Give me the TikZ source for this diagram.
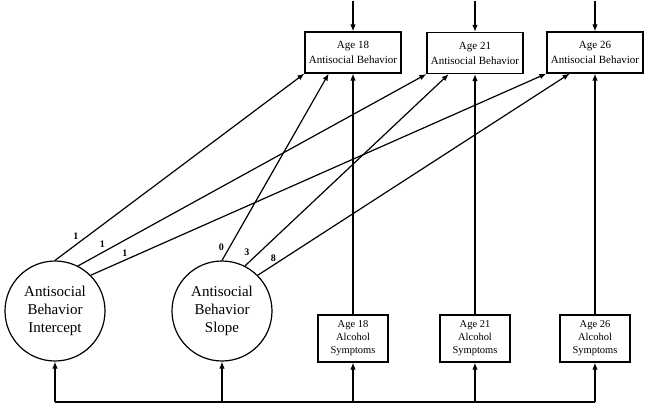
\documentclass[tikz,border=0pt]{standalone}
\usepackage{fontspec}
\setmainfont{Liberation Serif}
\usetikzlibrary{arrows.meta,calc,positioning}

\tikzset{
  arr/.style={-{Latex[length=7pt,width=5.5pt]}, line width=1.2pt},
  latent/.style={draw, circle, line width=1.2pt, minimum size=100pt, inner sep=0pt, align=center, font=\fontsize{15}{18}\selectfont},
  abbox/.style={draw, line width=1.2pt, minimum width=96pt, minimum height=41pt, inner sep=1pt, align=center, font=\fontsize{11}{15}\selectfont},
  alcbox/.style={draw, line width=1.2pt, minimum width=70pt, minimum height=47pt, inner sep=1pt, align=center, font=\fontsize{10.5}{13}\selectfont},
  wt/.style={font=\bfseries\fontsize{10}{11}\selectfont, inner sep=1pt}
}

\begin{document}
\begin{tikzpicture}[x=1pt, y=-1pt]
    \useasboundingbox (0,0) rectangle (649,408);
    % outcomes
    \node[abbox] (ab18) at (353,52.5) {Age 18\\Antisocial Behavior};
    \node[abbox] (ab21) at (475,53) {Age 21\\Antisocial Behavior};
    \node[abbox] (ab26) at (595,52.5) {Age 26\\Antisocial Behavior};
    % growth factors
    \node[latent] (int) at (55,311) {Antisocial\\Behavior\\Intercept};
    \node[latent] (slp) at (222,311) {Antisocial\\Behavior\\Slope};
    % time-varying covariates
    \node[alcbox] (al18) at (353,338.5) {Age 18\\Alcohol\\Symptoms};
    \node[alcbox] (al21) at (475,338.5) {Age 21\\Alcohol\\Symptoms};
    \node[alcbox] (al26) at (595,338.5) {Age 26\\Alcohol\\Symptoms};

    \coordinate (base) at (0,402);
    \coordinate (top) at (0,1);

    % residuals
    \foreach \n in {ab18,ab21,ab26}
        \draw[arr] (\n.north |- top) -- (\n.north);

    % intercept loadings
    \draw[arr] (int.90) -- (ab18.south west) node[wt, pos=0.1, above left=1pt and 0pt] {1};
    \draw[arr] (int.63) -- (ab21.south west) node[wt, pos=0.07, above=3pt] {1};
    \draw[arr] (int.45) -- (ab26.south west) node[wt, pos=0.075, above=2pt] {1};
    % slope loadings
    \draw[arr] (slp.90) -- ($(ab18.south west)!0.25!(ab18.south east)$) node[wt, pos=0.07, left=4pt] {0};
    \draw[arr] (slp.63) -- ($(ab21.south west)!0.23!(ab21.south east)$) node[wt, pos=0.03, above left=3pt and 0pt] {3};
    \draw[arr] (slp.45) -- ($(ab26.south west)!0.24!(ab26.south east)$) node[wt, pos=0.05, above=2pt] {8};

    % covariate effects
    \foreach \n in {18,21,26}
        \draw[arr] (al\n.north) -- (ab\n.south);

    % covariate line at the bottom
    \draw[line width=1.2pt] (int.south |- base) -- (al26.south |- base);
    \foreach \n in {int,slp,al18,al21,al26}
        \draw[arr] (\n.south |- base) -- (\n.south);
\end{tikzpicture}
\end{document}
